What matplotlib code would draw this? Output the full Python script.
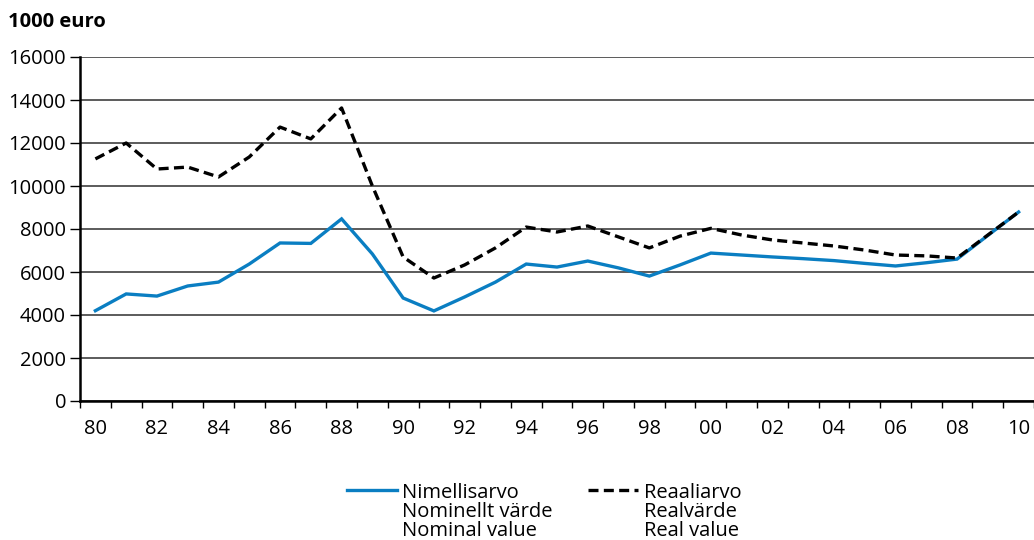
import numpy as np
import matplotlib
matplotlib.use('Agg')
import matplotlib.pyplot as plt
from matplotlib.ticker import FixedLocator, FixedFormatter

plt.rcParams['font.family'] = ['Open Sans', 'DejaVu Sans']

# data, 1000 euro
years = np.arange(1980, 2011)
nominal = [4200, 4980, 4880, 5350, 5530, 6370, 7350, 7330, 8470, 6840,
           4790, 4190, 4840, 5530, 6370, 6230, 6510, 6190, 5810, 6330,
           6880, 6790, 6700, 6620, 6530, 6400, 6280, 6430, 6600, 7700,
           8790]
real = [11260, 12000, 10790, 10880, 10420, 11350, 12740, 12190, 13630, 10000,
        6700, 5720, 6330, 7120, 8090, 7860, 8140, 7630, 7120, 7670,
        8030, 7720, 7490, 7350, 7210, 7020, 6790, 6750, 6650, 7720,
        8790]
label_nom = "Nimellisarvo\nNominellt värde\nNominal value"
label_real = "Reaaliarvo\nRealvärde\nReal value"
tick_years = list(range(1980, 2011, 2))
tick_labels = ["%02d" % (y % 100) for y in tick_years]

fig = plt.figure(figsize=(10.34, 5.40), dpi=100)
ax = fig.add_axes([80/1034, 139/540, 1 - 80/1034, 344/540])

l1, = ax.plot(years, nominal, color='#0a7ec2', lw=2.4, solid_joinstyle='miter')
l2, = ax.plot(years, real, color='black', lw=2.4, ls=(0, (3, 1.6)))

ax.set_ylim(0, 16000)
ax.set_xlim(1979.5, 2010.5)
ax.set_yticks(range(0, 16001, 2000))
ax.yaxis.grid(True, color='#404040', lw=1.2)
ax.set_axisbelow(True)

# tick marks on year boundaries, labels every two years
ax.xaxis.set_major_locator(FixedLocator(np.arange(1979.5, 2010.6, 1)))
ax.xaxis.set_major_formatter(FixedFormatter([]))
ax.xaxis.set_minor_locator(FixedLocator(tick_years))
ax.xaxis.set_minor_formatter(FixedFormatter(tick_labels))
ax.tick_params(axis='x', which='major', length=5, width=1, direction='out')
ax.tick_params(axis='x', which='minor', length=0, pad=13, labelsize=14.5)
ax.tick_params(axis='y', length=7, width=1, pad=3, labelsize=14.5)

for s in ['top', 'right']:
    ax.spines[s].set_visible(False)
ax.spines['left'].set_linewidth(1.8)
ax.spines['bottom'].set_linewidth(1.8)

fig.text(8/1034, 1 - 22/540, "1000 euro", fontsize=14.5, fontweight='bold', va='center')

leg = fig.legend([l1, l2], [label_nom, label_real], ncol=2, loc='upper left',
                 bbox_to_anchor=(347/1034, 1 - 483/540), frameon=False, fontsize=14.5,
                 handlelength=2.5, handletextpad=0.25, columnspacing=1.75,
                 labelspacing=0, borderaxespad=0, borderpad=0)
for t in leg.get_texts():
    t.set_linespacing(0.94)
# put the line next to the first text line
for col in leg._legend_handle_box.get_children():
    for row in col.get_children():
        row.align = 'top'

fig.savefig('out.png', dpi=100)
